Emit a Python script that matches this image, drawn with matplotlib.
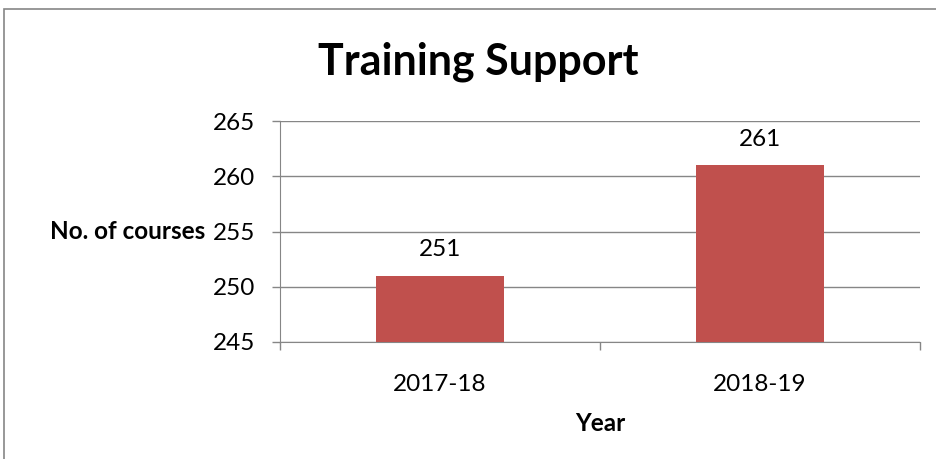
import matplotlib.pyplot as plt
from matplotlib.patches import Rectangle

years = ["2017-18", "2018-19"]
courses = [251, 261]

plt.rcParams['font.family'] = ['Lato', 'DejaVu Sans']

grey = "#868686"
fs = 17.5

fig = plt.figure(figsize=(9.37, 4.59), dpi=100)
ax = fig.add_axes([280 / 937, 117 / 459, 640 / 937, 221 / 459])

x = list(range(len(years)))
bars = ax.bar(x, courses, width=0.4, color="#C0504D", zorder=3)
for b, v in zip(bars, courses):
    ax.text(b.get_x() + b.get_width() / 2, v + 1.4, str(v),
            ha="center", va="bottom", fontsize=fs)

ax.set_xlim(-0.5, len(years) - 0.5)
ax.set_ylim(245, 265)
ax.set_yticks([245, 250, 255, 260, 265])
# major ticks sit between categories, labels go on minor ticks
ax.set_xticks([i - 0.5 for i in range(len(years) + 1)], minor=False)
ax.set_xticklabels([])
ax.set_xticks(x, minor=True)
ax.set_xticklabels(years, minor=True)
ax.tick_params(axis="x", which="major", length=6, color=grey, width=1)
ax.tick_params(axis="x", which="minor", length=0, labelsize=fs, pad=23)
ax.tick_params(axis="y", length=6, color=grey, width=1, labelsize=fs, pad=12)

ax.grid(axis="y", color=grey, linewidth=1, zorder=0)
for s in ["top", "right"]:
    ax.spines[s].set_visible(False)
for s in ["left", "bottom"]:
    ax.spines[s].set_color(grey)

ax.set_xlabel("Year", fontsize=fs, fontweight="bold", labelpad=12)
ax.set_ylabel("No. of courses", fontsize=fs, fontweight="bold",
              rotation=0, ha="right", va="center", labelpad=5)

fig.text(478 / 937, 1 - 62 / 459, "Training Support", ha="center", va="center",
         fontsize=31, fontweight="bold")

# chart frame
fig.patches.append(Rectangle((4 / 937, -0.1), 1.2, 1 - 9 / 459 + 0.1,
                             transform=fig.transFigure, fill=False,
                             edgecolor=grey, linewidth=1.2))

fig.savefig("out.png", dpi=100)
